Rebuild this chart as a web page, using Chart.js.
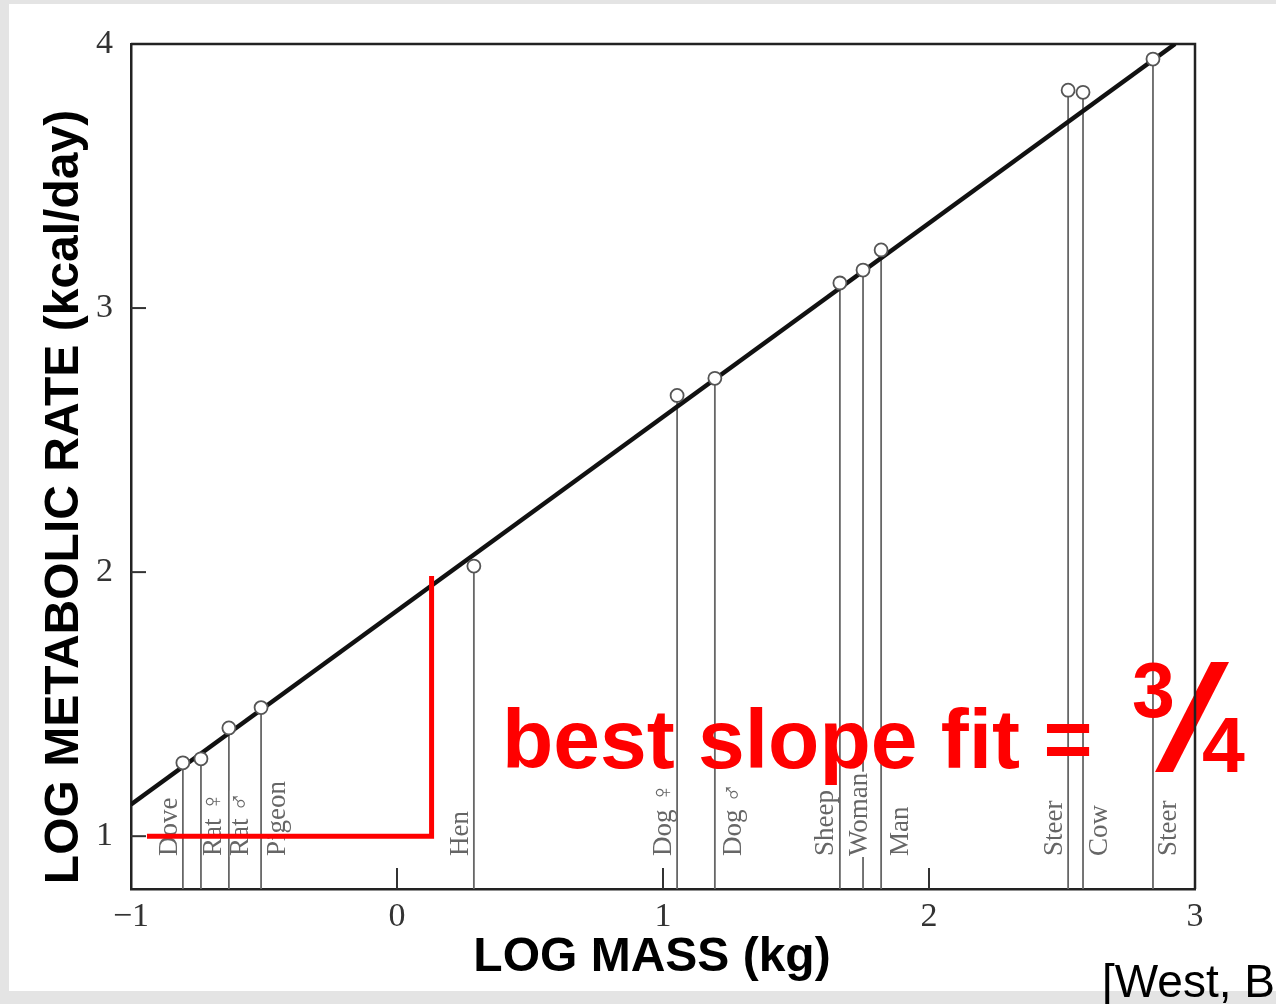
<!DOCTYPE html>
<html>
<head>
<meta charset="utf-8">
<script src="https://cdn.jsdelivr.net/npm/chart.js@4.4.1/dist/chart.umd.min.js"></script>
<style>
body { margin: 0; background: #e4e4e4; width: 1276px; height: 1004px; overflow: hidden; position: relative; }
#paper { position: absolute; left: 9px; top: 4px; width: 1267px; height: 987px; background: #fff; }
#chart { position: absolute; left: 0; top: 0; }
</style>
</head>
<body>
<div id="paper"></div>
<canvas id="chart" width="1276" height="1004"></canvas>
<script>
// Dữ liệu
const animals = ['Dove', 'Rat ♀', 'Rat ♂', 'Pigeon', 'Hen', 'Dog ♀', 'Dog ♂', 'Sheep', 'Woman', 'Man', 'Steer', 'Cow', 'Steer'];
const logMass = [-0.805, -0.737, -0.632, -0.511, 0.289, 1.053, 1.195, 1.665, 1.752, 1.82, 2.523, 2.579, 2.842];
const logRate = [1.278, 1.293, 1.41, 1.487, 2.023, 2.669, 2.734, 3.095, 3.144, 3.22, 3.825, 3.817, 3.943];

// Đường hồi quy
const fitX = [-1, 2.925];
const fitY = [1.12, 4];

// Ký hiệu độ dốc màu đỏ
const markX = [-0.94, 0.13, 0.13];
const markY = [1, 1, 1.985];

const xTicks = [-1, 0, 1, 2, 3];
const yTicks = [1, 2, 3, 4];

const xTitle = 'LOG MASS (kg)';
const yTitle = 'LOG METABOLIC RATE (kcal/day)';

// lệch nhãn so với đường thẳng đứng (px)
const labelShift = [-14, 12, 11, 16, -14, -14, 18, -15, -4, 19, -14, 16, 15];

const toPts = (xs, ys) => xs.map((v, i) => ({ x: v, y: ys[i] }));

const annotPlugin = {
    id: 'annot',
    beforeDatasetsDraw(chart) {
        const ctx = chart.ctx;
        const area = chart.chartArea;
        const sx = chart.scales.x;
        const sy = chart.scales.y;
        ctx.save();

        // đường thả xuống
        ctx.strokeStyle = '#666';
        ctx.lineWidth = 1.8;
        logMass.forEach((m, i) => {
            const px = sx.getPixelForValue(m);
            const py = sy.getPixelForValue(logRate[i]);
            ctx.beginPath();
            ctx.moveTo(px, py);
            ctx.lineTo(px, area.bottom);
            ctx.stroke();
        });

        // nhãn xoay
        ctx.font = '27px "Liberation Serif", "DejaVu Serif", serif';
        ctx.textAlign = 'left';
        ctx.textBaseline = 'middle';
        animals.forEach((name, i) => {
            const px = sx.getPixelForValue(logMass[i]) + labelShift[i];
            const w = ctx.measureText(name).width;
            ctx.save();
            ctx.translate(px, 856);
            ctx.rotate(-Math.PI / 2);
            ctx.fillStyle = '#fff';
            ctx.fillRect(-1, -10, w + 2, 20);
            ctx.fillStyle = '#666';
            ctx.fillText(name, 0, 1);
            ctx.restore();
        });

        // chữ đỏ
        ctx.fillStyle = '#ff0000';
        ctx.textBaseline = 'alphabetic';
        ctx.font = 'bold 84px "Liberation Sans", Arial, sans-serif';
        ctx.fillText('best slope fit =', 502, 768);
        ctx.font = 'bold 77px "Liberation Sans", Arial, sans-serif';
        ctx.fillText('3', 1132, 717);
        ctx.fillText('4', 1202, 772);
        ctx.beginPath();
        ctx.moveTo(1155, 772);
        ctx.lineTo(1173, 772);
        ctx.lineTo(1229, 662);
        ctx.lineTo(1211, 662);
        ctx.closePath();
        ctx.fill();

        // vạch chia hướng vào trong
        ctx.strokeStyle = '#333';
        ctx.lineWidth = 2;
        yTicks.slice(0, 3).forEach(v => {
            const py = sy.getPixelForValue(v);
            ctx.beginPath();
            ctx.moveTo(area.left, py);
            ctx.lineTo(area.left + 15, py);
            ctx.stroke();
        });
        xTicks.slice(1, 4).forEach(v => {
            const px = sx.getPixelForValue(v);
            ctx.beginPath();
            ctx.moveTo(px, area.bottom);
            ctx.lineTo(px, area.bottom - 21);
            ctx.stroke();
        });

        // khung trên và phải
        ctx.strokeStyle = '#222';
        ctx.lineWidth = 2.5;
        ctx.beginPath();
        ctx.moveTo(area.left, area.top);
        ctx.lineTo(area.right, area.top);
        ctx.lineTo(area.right, area.bottom);
        ctx.stroke();
        ctx.restore();
    },
    afterDraw(chart) {
        const ctx = chart.ctx;
        ctx.save();
        ctx.fillStyle = '#000';
        ctx.textBaseline = 'middle';
        ctx.textAlign = 'center';
        ctx.font = 'bold 48px "Liberation Sans", Arial, sans-serif';
        // tiêu đề trục
        ctx.fillText(xTitle, 652, 958);
        ctx.save();
        ctx.translate(65, 497);
        ctx.rotate(-Math.PI / 2);
        ctx.fillText(yTitle, 0, 0);
        ctx.restore();

        ctx.font = '46px "Liberation Sans", Arial, sans-serif';
        ctx.textAlign = 'left';
        ctx.textBaseline = 'alphabetic';
        ctx.fillText('[West, B', 1102, 997);
        ctx.restore();
    }
};

const tickFont = { family: '"Liberation Serif", "DejaVu Serif", serif', size: 34 };

const config = {
    type: 'scatter',
    data: {
        datasets: [
            {
                label: 'fit',
                data: toPts(fitX, fitY),
                showLine: true,
                borderColor: '#111',
                borderWidth: 4.5,
                pointRadius: 0,
                order: 3
            },
            {
                label: 'mark',
                data: toPts(markX, markY),
                showLine: true,
                borderColor: '#ff0000',
                borderWidth: 5,
                pointRadius: 0,
                tension: 0,
                order: 2
            },
            {
                label: 'animals',
                data: toPts(logMass, logRate),
                pointRadius: 6.5,
                pointBackgroundColor: '#fff',
                pointBorderColor: '#555',
                pointBorderWidth: 1.8,
                order: 1
            }
        ]
    },
    options: {
        responsive: false,
        animation: false,
        layout: { padding: { top: 44, right: 81, left: 0, bottom: 0 } },
        plugins: {
            legend: { display: false },
            tooltip: { enabled: false }
        },
        scales: {
            x: {
                type: 'linear',
                min: -1,
                max: 3,
                afterBuildTicks: s => { s.ticks = xTicks.map(v => ({ value: v })); },
                afterFit: s => { s.height = 115; },
                grid: { display: false, drawTicks: false },
                border: { display: true, color: '#222', width: 2.5 },
                ticks: {
                    font: tickFont,
                    color: '#333',
                    padding: 8,
                    maxRotation: 0,
                    autoSkip: false,
                    callback: v => v < 0 ? '−' + (-v) : String(v)
                },
                title: { display: false }
            },
            y: {
                type: 'linear',
                min: 0.8,
                max: 4,
                afterBuildTicks: s => { s.ticks = yTicks.map(v => ({ value: v })); },
                afterFit: s => { s.width = 131; },
                grid: { display: false, drawTicks: false },
                border: { display: true, color: '#222', width: 2.5 },
                ticks: {
                    font: tickFont,
                    color: '#333',
                    padding: 18
                },
                title: { display: false }
            }
        }
    },
    plugins: [annotPlugin]
};

const metabolicChart = new Chart(document.getElementById('chart'), config);
</script>
</body>
</html>
